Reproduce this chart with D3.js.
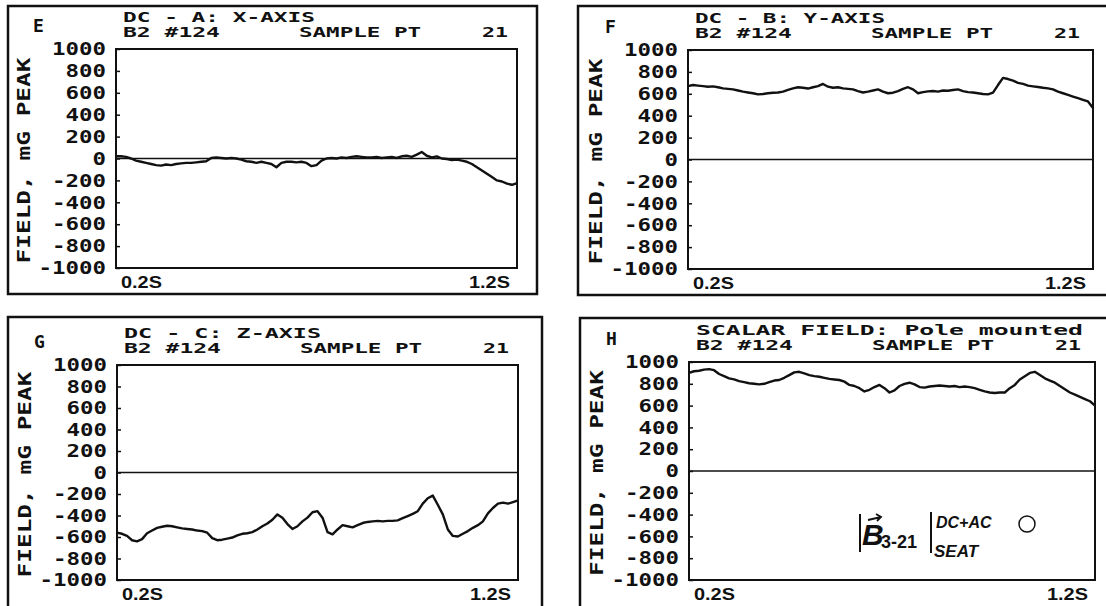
<!DOCTYPE html>
<html>
<head>
<meta charset="utf-8">
<script src="https://cdn.jsdelivr.net/npm/d3@7"></script>
<style>
  body { margin: 0; background: #fff; }
  svg { display: block; }
</style>
</head>
<body>
<div id="chart"></div>
<script>
// Field readings (mG peak), sampled evenly from 0.2 s to 1.2 s
const xAxisField = [20, 20, 15, 0, -20, -30, -40, -50, -60, -65, -55, -60, -50, -45, -40, -40,
  -35, -30, -25, 5, 10, 5, 0, 5, 0, -10, -25, -30, -40, -30, -40, -50, -80, -40, -30, -30,
  -35, -30, -40, -70, -60, -20, 0, 5, 0, 10, 5, 15, 20, 15, 10, 10, 15, 5, 10, 15, 5, 20,
  25, 15, 35, 60, 25, 10, 20, 0, -5, -15, -10, -20, -30, -50, -80, -110, -140, -170, -200,
  -210, -230, -240, -225];

const yAxisField = [670, 680, 675, 670, 665, 668, 660, 650, 645, 640, 630, 620, 612, 605, 595,
  598, 605, 610, 612, 620, 635, 650, 660, 655, 648, 660, 670, 690, 665, 655, 660, 650, 645,
  640, 625, 612, 620, 630, 640, 620, 605, 610, 625, 645, 660, 640, 605, 615, 622, 625, 620,
  630, 628, 635, 640, 625, 615, 612, 605, 598, 595, 610, 680, 745, 735, 720, 700, 690, 675,
  668, 662, 655, 650, 640, 620, 605, 590, 575, 560, 545, 530, 470];

const zAxisField = [-560, -570, -590, -630, -640, -620, -565, -540, -515, -505, -495, -500,
  -510, -520, -525, -530, -540, -545, -560, -610, -630, -625, -615, -605, -585, -570, -565,
  -555, -530, -500, -475, -440, -390, -420, -480, -525, -500, -455, -420, -370, -360, -420,
  -555, -575, -530, -490, -500, -510, -490, -470, -460, -455, -450, -455, -450, -450, -445,
  -425, -405, -385, -360, -290, -240, -215, -300, -390, -530, -590, -595, -570, -545, -515,
  -490, -455, -380, -330, -290, -280, -290, -275, -260];

const scalarField = [900, 915, 920, 930, 935, 925, 890, 870, 850, 840, 825, 815, 805, 800, 795,
  800, 815, 830, 835, 855, 880, 905, 910, 895, 880, 870, 865, 855, 845, 840, 835, 820, 790,
  780, 760, 730, 745, 770, 790, 760, 720, 740, 780, 800, 810, 795, 770, 765, 775, 780, 785,
  780, 775, 780, 770, 775, 770, 760, 745, 730, 720, 715, 720, 720, 760, 790, 840, 870, 900,
  910, 880, 850, 830, 810, 780, 750, 720, 700, 680, 660, 640, 600];

const yTickValues = [1000, 800, 600, 400, 200, 0, -200, -400, -600, -800, -1000];
const timeLabels = ["0.2S", "1.2S"];
const timeDomain = [0.2, 1.2];

const panels = [
  { letter: "E", title: "DC - A: X-AXIS", titleLen: 192, values: xAxisField,
    box: [8, 6, 537, 294], plot: [116, 49, 517, 268] },
  { letter: "F", title: "DC - B: Y-AXIS", titleLen: 190, values: yAxisField,
    box: [578, 6, 1112, 295], plot: [688, 50, 1093, 269] },
  { letter: "G", title: "DC - C: Z-AXIS", titleLen: 197, values: zAxisField,
    box: [8, 317, 542, 614], plot: [117, 365, 518, 580] },
  { letter: "H", title: "SCALAR FIELD: Pole mounted", titleLen: 387, values: scalarField,
    box: [580, 318, 1112, 614], plot: [689, 362, 1095, 580] }
];

const W = 1106, H = 606;
const ink = "#111";
const pixelFont = "'DejaVu Sans Mono', monospace";
const sansFont = "'Liberation Sans', Arial, sans-serif";

const svg = d3.select("#chart").append("svg")
  .attr("width", W).attr("height", H)
  .style("background", "#fff");

panels.forEach(p => {
  const [bx0, by0, bx1, by1] = p.box;
  const [px0, py0, px1, py1] = p.plot;

  // outer frame
  svg.append("rect")
    .attr("x", bx0).attr("y", by0)
    .attr("width", bx1 - bx0).attr("height", by1 - by0)
    .attr("fill", "none").attr("stroke", ink).attr("stroke-width", 2.5);

  const x = d3.scaleLinear().domain(timeDomain).range([px0, px1]);
  const y = d3.scaleLinear().domain([-1000, 1000]).range([py1, py0]);

  const g = svg.append("g");

  // plot border
  g.append("rect")
    .attr("x", px0).attr("y", py0)
    .attr("width", px1 - px0).attr("height", py1 - py0)
    .attr("fill", "none").attr("stroke", ink).attr("stroke-width", 2);

  // zero line
  g.append("line")
    .attr("x1", x(timeDomain[0])).attr("x2", x(timeDomain[1]))
    .attr("y1", y(0)).attr("y2", y(0))
    .attr("stroke", ink).attr("stroke-width", 1.6);

  // left axis, inward ticks
  const axis = g.append("g")
    .attr("transform", `translate(${px0},0)`)
    .call(d3.axisLeft(y)
      .tickValues(yTickValues)
      .tickSize(-4)
      .tickPadding(10)
      .tickFormat(d => String(d)));
  axis.select(".domain").remove();
  axis.selectAll(".tick line").attr("stroke", ink).attr("stroke-width", 1.5);
  axis.selectAll(".tick text")
    .attr("fill", ink)
    .style("font-family", pixelFont)
    .style("font-weight", "bold")
    .style("font-size", "18px")
    .attr("textLength", d => String(d).length * 13.5)
    .attr("lengthAdjust", "spacingAndGlyphs");

  // trace
  const n = p.values.length;
  const line = d3.line()
    .x((d, i) => x(timeDomain[0] + (timeDomain[1] - timeDomain[0]) * i / (n - 1)))
    .y(d => y(d));
  g.append("path")
    .datum(p.values)
    .attr("d", line)
    .attr("fill", "none")
    .attr("stroke", ink)
    .attr("stroke-width", 2.4)
    .attr("stroke-linejoin", "round");

  // headers
  const hdr = (txt, xx, yy, len) => svg.append("text")
    .attr("x", xx).attr("y", yy)
    .attr("textLength", len).attr("lengthAdjust", "spacingAndGlyphs")
    .style("font-family", pixelFont).style("font-weight", "bold")
    .style("font-size", "14px").attr("fill", ink)
    .text(txt);
  hdr(p.title, px0 + 7, py0 - 27, p.titleLen);
  hdr("B2 #124", px0 + 7, py0 - 12, 97);
  hdr("SAMPLE PT", px0 + 183, py0 - 12, 122);
  hdr("21", px0 + 366, py0 - 12, 26);

  // panel letter
  svg.append("text")
    .attr("x", px0 - 83).attr("y", py0 - 17)
    .style("font-family", pixelFont).style("font-weight", "bold")
    .style("font-size", "18px").attr("fill", ink)
    .text(p.letter);

  // y title
  svg.append("text")
    .attr("transform", `translate(${px0 - 86},${(py0 + py1) / 2 + 2}) rotate(-90)`)
    .attr("text-anchor", "middle")
    .attr("textLength", 206).attr("lengthAdjust", "spacingAndGlyphs")
    .style("font-family", pixelFont).style("font-weight", "bold")
    .style("font-size", "18px").attr("fill", ink)
    .text("FIELD, mG PEAK");

  // time labels
  svg.append("text")
    .attr("x", px0 + 5).attr("y", py1 + 20)
    .attr("textLength", 41).attr("lengthAdjust", "spacingAndGlyphs")
    .style("font-family", sansFont).style("font-weight", "bold")
    .style("font-size", "17px").attr("fill", ink)
    .text(timeLabels[0]);
  svg.append("text")
    .attr("x", px1 - 7).attr("y", py1 + 20)
    .attr("text-anchor", "end")
    .attr("textLength", 41).attr("lengthAdjust", "spacingAndGlyphs")
    .style("font-family", sansFont).style("font-weight", "bold")
    .style("font-size", "17px").attr("fill", ink)
    .text(timeLabels[1]);
});

// formula annotation in panel H
const f = svg.append("g").attr("fill", ink);
f.append("line").attr("x1", 860).attr("x2", 860).attr("y1", 514).attr("y2", 552)
  .attr("stroke", ink).attr("stroke-width", 2);
f.append("text").attr("x", 862).attr("y", 545)
  .style("font-family", sansFont).style("font-weight", "bold").style("font-style", "italic")
  .style("font-size", "30px").text("B");
f.append("path").attr("d", "M868,520 L881,517 M876,514 L881,517 L877,521")
  .attr("fill", "none").attr("stroke", ink).attr("stroke-width", 1.8);
f.append("text").attr("x", 881).attr("y", 548)
  .style("font-family", sansFont).style("font-weight", "bold")
  .style("font-size", "18px").text("3-21");
f.append("line").attr("x1", 931).attr("x2", 931).attr("y1", 512).attr("y2", 553)
  .attr("stroke", ink).attr("stroke-width", 2);
f.append("text").attr("x", 936).attr("y", 528)
  .style("font-family", sansFont).style("font-weight", "bold").style("font-style", "italic")
  .style("font-size", "16px").text("DC+AC");
f.append("text").attr("x", 934).attr("y", 557)
  .style("font-family", sansFont).style("font-weight", "bold").style("font-style", "italic")
  .style("font-size", "17px").text("SEAT");
f.append("circle").attr("cx", 1027).attr("cy", 524).attr("r", 8)
  .attr("fill", "none").attr("stroke", ink).attr("stroke-width", 1.5);
</script>
</body>
</html>
